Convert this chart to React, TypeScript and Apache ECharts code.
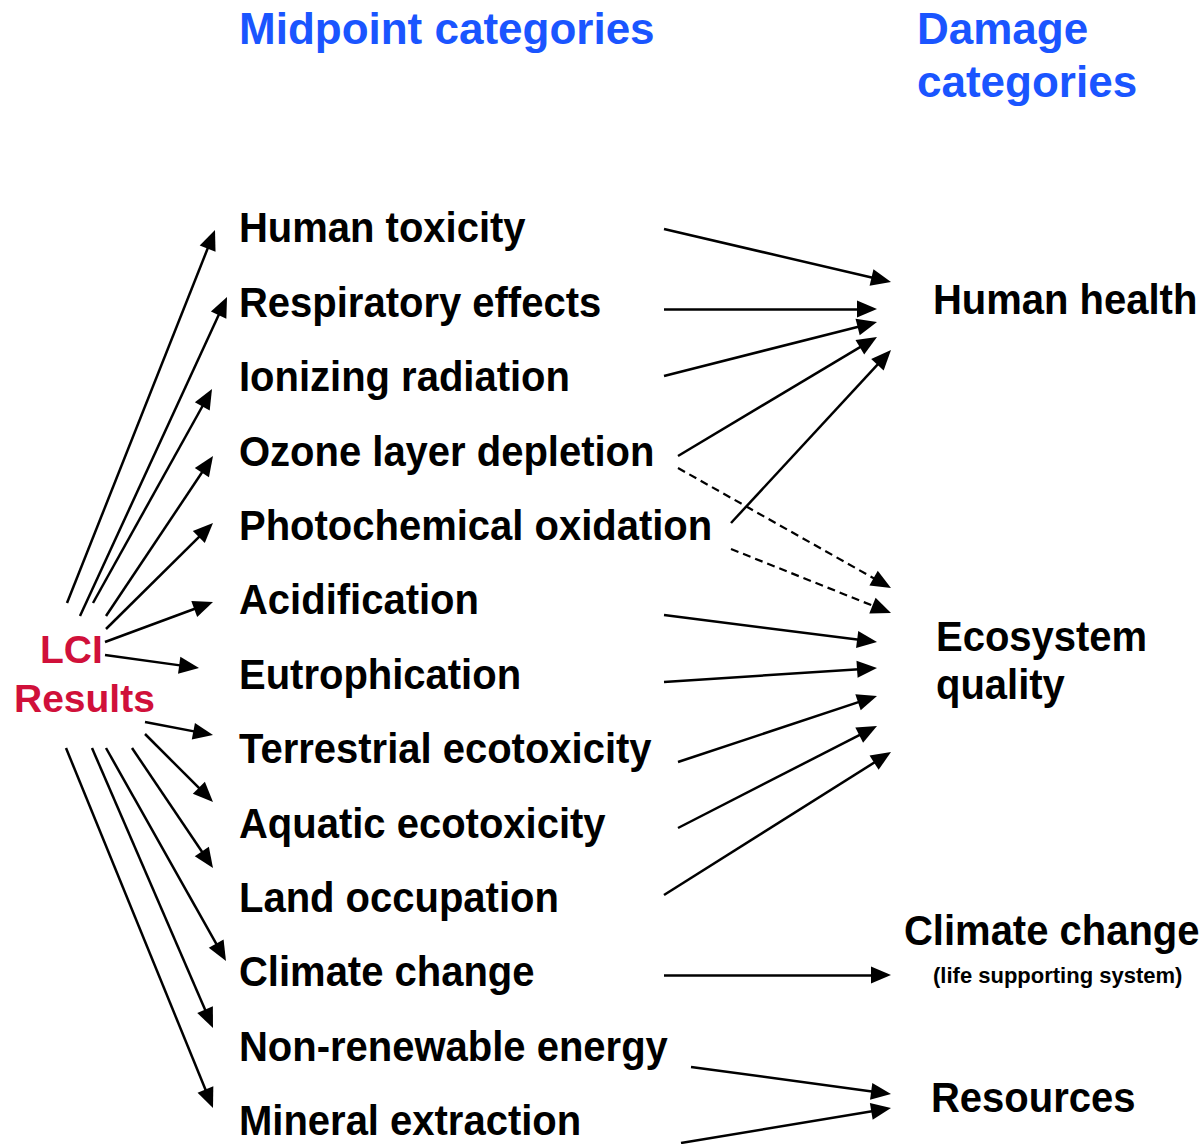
import { useEffect, useRef } from 'react';
import * as echarts from 'echarts';

const midpointTitle = 'Midpoint categories';
const damageTitle = ['Damage', 'categories'];
const sourceLabel = ['LCI', 'Results'];
const midpointCategories = [
  'Human toxicity',
  'Respiratory effects',
  'Ionizing radiation',
  'Ozone layer depletion',
  'Photochemical oxidation',
  'Acidification',
  'Eutrophication',
  'Terrestrial ecotoxicity',
  'Aquatic ecotoxicity',
  'Land occupation',
  'Climate change',
  'Non-renewable energy',
  'Mineral extraction',
];
const damageCategories = ['Human health', 'Ecosystem', 'quality', 'Climate change', 'Resources'];
const damageSubtitle = '(life supporting system)';

// arrows as [x1, y1, x2 (tip), y2 (tip)] in page units
const lciArrows = [
  [67, 603, 215, 230],
  [80, 616, 227, 297],
  [93, 603, 212, 389],
  [106, 616, 213, 456],
  [106, 629, 213, 523],
  [105, 642, 213, 602],
  [105, 655, 199, 668],
  [145, 722, 213, 735],
  [145, 734, 213, 802],
  [132, 748, 213, 868],
  [106, 748, 226, 961],
  [92, 748, 213, 1028],
  [66, 748, 213, 1108],
];
const damageArrows = [
  [664, 229, 891, 282],
  [664, 309, 877, 309],
  [664, 376, 877, 322],
  [678, 456, 877, 337],
  [731, 523, 891, 350],
  [664, 615, 877, 642],
  [664, 682, 877, 668],
  [678, 762, 877, 696],
  [678, 828, 877, 726],
  [664, 895, 891, 752],
  [664, 975, 891, 975],
  [691, 1067, 891, 1094],
  [681, 1143, 891, 1108],
];
const dashedArrows = [
  [678, 468, 891, 588],
  [731, 549, 891, 613],
];

const W = 1203;
const H = 1144;
const HEAD_LEN = 20;
const HEAD_W = 17;
const FONT = '"Liberation Sans", Arial, Helvetica, sans-serif';
const BLUE = '#1a55ff';
const RED = '#d0103a';

function toLine(a: number[]) {
  const [x1, y1, x2, y2] = a;
  const dx = x2 - x1;
  const dy = y2 - y1;
  const L = Math.sqrt(dx * dx + dy * dy);
  const k = HEAD_LEN / 2 / L;
  return { coords: [[x1, y1], [x2 - dx * k, y2 - dy * k]] };
}

function txt(text: string, x: number, cy: number, size: number, color: string, scaleX = 1) {
  return {
    type: 'text',
    x,
    y: cy,
    scaleX,
    silent: true,
    style: {
      text,
      x: 0,
      y: 0,
      font: `bold ${size}px ${FONT}`,
      fill: color,
      align: 'left',
      verticalAlign: 'middle',
    },
  };
}

export default function App() {
  const ref = useRef<HTMLDivElement>(null);
  useEffect(() => {
    document.body.style.margin = '0';
    const chart = echarts.init(ref.current!, undefined, { renderer: 'svg' });
    const rowY0 = 228;
    const rowStep = 74.4;
    const S = 0.952;
    const graphics: any[] = [
      txt(midpointTitle, 239, 28, 44, BLUE),
      txt(damageTitle[0], 917, 28, 44, BLUE),
      txt(damageTitle[1], 917, 81, 44, BLUE),
      txt(sourceLabel[0], 40, 649, 39, RED),
      txt(sourceLabel[1], 14, 698, 39, RED),
      ...midpointCategories.map((c, i) => txt(c, 239, rowY0 + i * rowStep, 42, '#000', S)),
      txt(damageCategories[0], 933, 300, 42, '#000', S),
      txt(damageCategories[1], 936, 637, 42, '#000', S),
      txt(damageCategories[2], 936, 685, 42, '#000', S),
      txt(damageCategories[3], 904, 931, 42, '#000', S),
      txt(damageSubtitle, 933, 975, 22, '#000'),
      txt(damageCategories[4], 931, 1098, 42, '#000', S),
    ];
    const lineCommon = {
      type: 'lines',
      coordinateSystem: 'cartesian2d',
      symbol: ['none', 'triangle'],
      symbolSize: [0, [HEAD_W, HEAD_LEN]],
      silent: true,
      z: 3,
    };
    chart.setOption({
      animation: false,
      backgroundColor: '#fff',
      grid: { left: 0, top: 0, width: W, height: H, show: false },
      xAxis: { type: 'value', min: 0, max: W, show: false },
      yAxis: { type: 'value', min: 0, max: H, inverse: true, show: false },
      series: [
        {
          ...lineCommon,
          lineStyle: { color: '#000', width: 2.5, opacity: 1 },
          itemStyle: { color: '#000' },
          data: [...lciArrows, ...damageArrows].map(toLine),
        },
        {
          ...lineCommon,
          lineStyle: { color: '#000', width: 2.2, type: [8, 5], opacity: 1 },
          itemStyle: { color: '#000' },
          data: dashedArrows.map(toLine),
        },
      ],
      graphic: graphics,
    });
    return () => chart.dispose();
  }, []);
  return <div ref={ref} style={{ width: W, height: H }} />;
}
